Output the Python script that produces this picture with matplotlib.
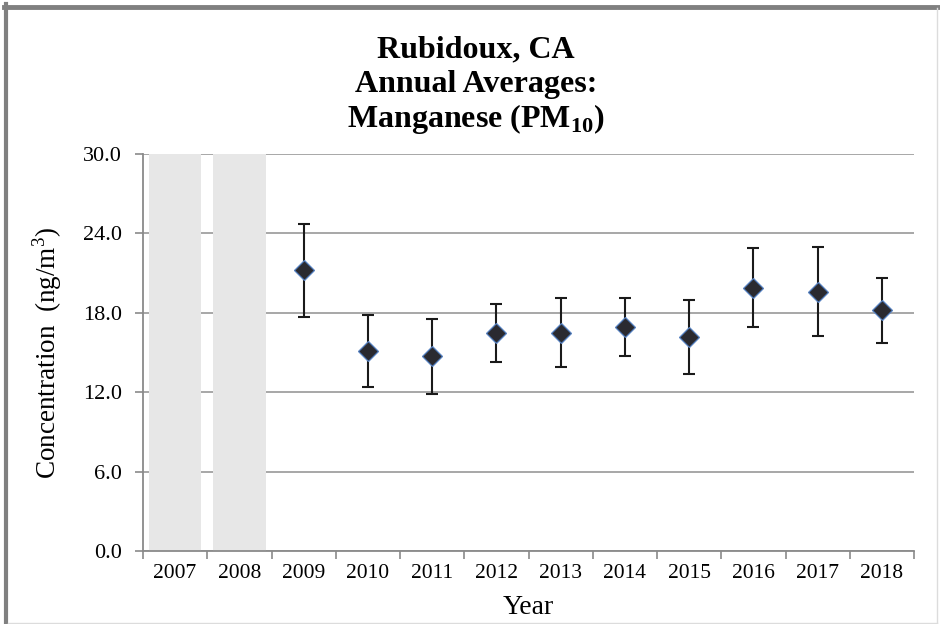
import numpy as np
import matplotlib.pyplot as plt
from matplotlib.lines import Line2D

plt.rcParams['font.family'] = ['Liberation Serif', 'DejaVu Serif']
plt.rcParams['mathtext.fontset'] = 'custom'
plt.rcParams['mathtext.rm'] = 'Liberation Serif'
plt.rcParams['mathtext.bf'] = 'Liberation Serif:bold'

# ---- Data ----
years = ['2007', '2008', '2009', '2010', '2011', '2012', '2013', '2014',
         '2015', '2016', '2017', '2018']
no_data_years = ['2007', '2008']
data_years = ['2009', '2010', '2011', '2012', '2013', '2014', '2015',
              '2016', '2017', '2018']
means = [21.2, 15.1, 14.7, 16.5, 16.5, 16.9, 16.2, 19.9, 19.6, 18.2]
ci = [3.5, 2.7, 2.8, 2.2, 2.6, 2.2, 2.8, 3.0, 3.35, 2.45]
y_ticks = [0.0, 6.0, 12.0, 18.0, 24.0, 30.0]

fig = plt.figure(figsize=(9.4, 6.24), dpi=100)
ax = fig.add_axes([143 / 940, 1 - 551 / 624, 771 / 940, 397 / 624])

pos = {y: i for i, y in enumerate(years)}
ymax = y_ticks[-1]

# shaded bars for years without data
ax.bar([pos[y] for y in no_data_years], [ymax] * len(no_data_years),
       width=0.82, color='#e7e7e7', zorder=1)

# ---- Means with error bars ----
x = [pos[y] for y in data_years]
ax.errorbar(x, means, yerr=ci, fmt='none', ecolor='#1a1a1a', elinewidth=1.5,
            capsize=4.5, capthick=1.5, zorder=3)
ax.plot(x, means, linestyle='none', marker='D', markersize=10,
        markerfacecolor='#2a2a30', markeredgecolor='#5580c0',
        markeredgewidth=0.9, zorder=4)

ax.set_xlim(-0.5, len(years) - 0.5)
ax.set_ylim(0, ymax)
ax.set_yticks(y_ticks)
ax.set_yticklabels([f'{v:.1f}' for v in y_ticks], fontsize=16)
ax.yaxis.grid(True, color='#a0a0a0', linewidth=1.3, zorder=0)
ax.set_axisbelow(True)

ax.set_xticks(np.arange(-0.5, len(years)), minor=False)
ax.set_xticklabels([])
ax.set_xticks(np.arange(len(years)), minor=True)
ax.set_xticklabels(years, minor=True, fontsize=15.5)
ax.tick_params(axis='x', which='major', length=6, width=1.2, color='#8a8a8a',
               direction='out')
ax.tick_params(axis='x', which='minor', length=0, pad=9)
ax.tick_params(axis='y', length=6, width=1.2, color='#8a8a8a', pad=9)

for side in ['top', 'right']:
    ax.spines[side].set_visible(False)
for side in ['left', 'bottom']:
    ax.spines[side].set_color('#8a8a8a')
    ax.spines[side].set_linewidth(1.3)

ax.set_xlabel('Year', fontsize=20)
ax.xaxis.set_label_coords(0.5, -0.112)
ax.set_ylabel(r'Concentration  (ng/m$^{\mathrm{3}}$)', fontsize=19.5)
ax.yaxis.set_label_coords(-0.102, 0.5)

# ---- Title ----
title_lines = ['Rubidoux, CA', 'Annual Averages:',
               r'Manganese (PM$_{\mathbf{10}}$)']
for k, line in enumerate(title_lines):
    fig.text(476 / 940, 1 - (57 + 35 * k) / 624, line, ha='center',
             va='baseline', fontsize=23, fontweight='bold')

# ---- Outer frame ----
fig.add_artist(Line2D([6 / 940, 6 / 940], [0, 1 - 4 / 624],
                      transform=fig.transFigure, color='#808080', linewidth=3))
fig.add_artist(Line2D([4 / 940, 1], [1 - 6.5 / 624, 1 - 6.5 / 624],
                      transform=fig.transFigure, color='#808080', linewidth=3.5))
fig.add_artist(Line2D([937 / 940, 937 / 940], [0, 1 - 8 / 624],
                      transform=fig.transFigure, color='#dcdcdc', linewidth=1))
fig.add_artist(Line2D([8 / 940, 937 / 940], [1.5 / 624, 1.5 / 624],
                      transform=fig.transFigure, color='#dcdcdc', linewidth=1))

plt.savefig('out.png', dpi=100)
plt.close()
